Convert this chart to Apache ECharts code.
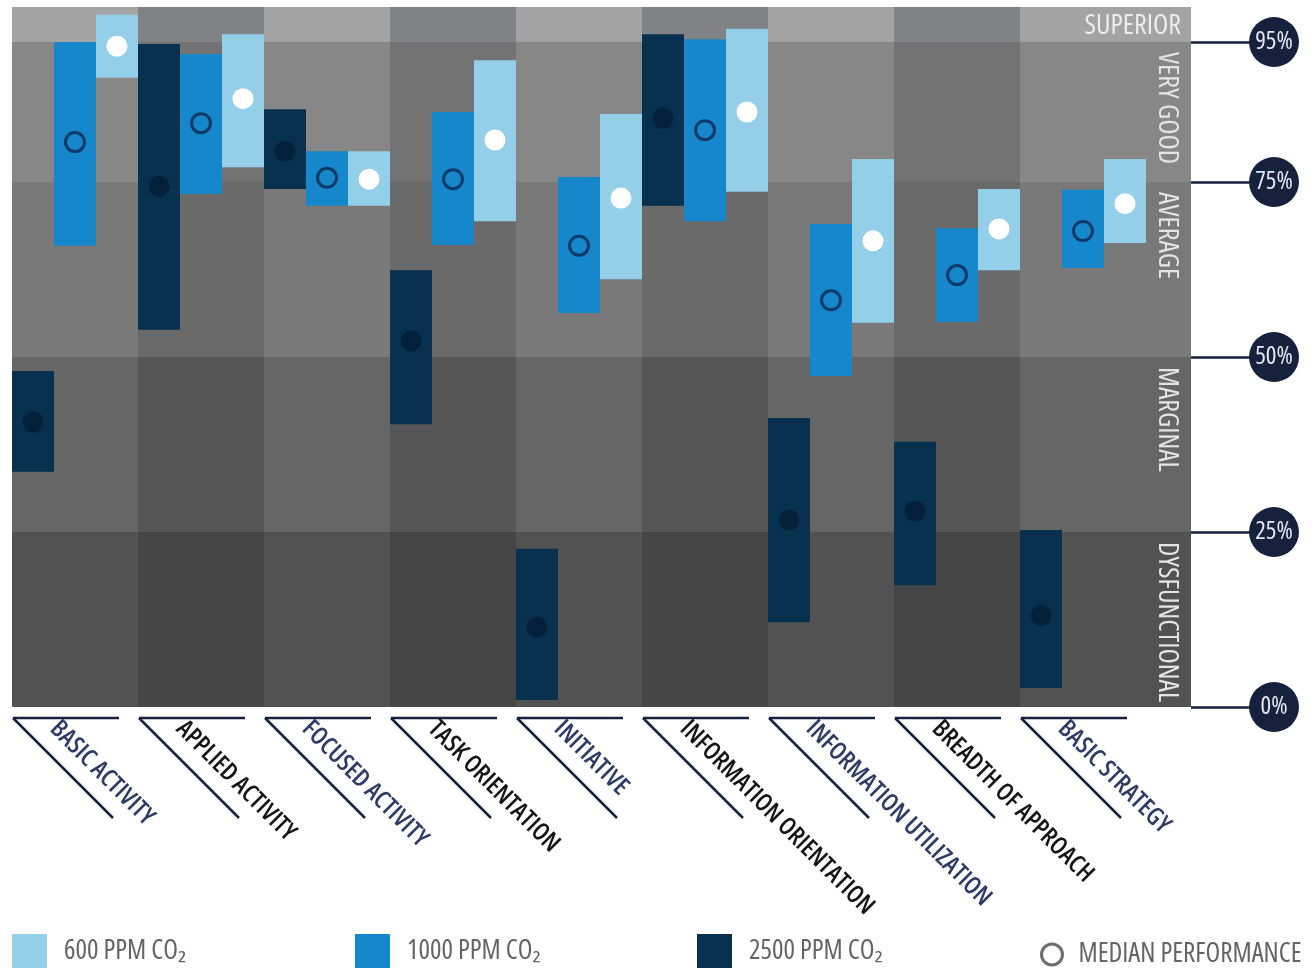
<!DOCTYPE html>
<html><head><meta charset="utf-8">
<script src="https://cdn.jsdelivr.net/npm/echarts@6/dist/echarts.min.js"></script>
<style>html,body{margin:0;padding:0;background:#fff}#c{width:1314px;height:973px}</style>
</head><body><div id="c"></div>
<script>
// Cognitive performance ranges by CO2 level, one column per decision-making domain.
const categories = [
  'BASIC ACTIVITY', 'APPLIED ACTIVITY', 'FOCUSED ACTIVITY', 'TASK ORIENTATION', 'INITIATIVE',
  'INFORMATION ORIENTATION', 'INFORMATION UTILIZATION', 'BREADTH OF APPROACH', 'BASIC STRATEGY'
];

// Percentile ranges (low / high) and medians for each exposure level
const ppm600Low     = [89.9, 77.1, 71.6, 69.4, 61.1, 73.6, 54.9, 62.4, 66.3];
const ppm600High    = [98.9, 96.1, 79.4, 92.4, 84.7, 96.9, 78.3, 74.0, 78.3];
const ppm600Median  = [94.4, 86.9, 75.4, 81.0, 72.7, 85.0, 66.6, 68.3, 71.9];

const ppm1000Low    = [65.9, 73.3, 71.6, 66.0, 56.3, 69.4, 47.3, 55.0, 62.7];
const ppm1000High   = [95.0, 93.3, 79.4, 85.0, 75.7, 95.4, 69.0, 68.4, 73.9];
const ppm1000Median = [80.7, 83.4, 75.6, 75.4, 65.9, 82.4, 58.1, 61.7, 68.0];

const ppm2500Low    = [33.6, 53.9, 74.0, 40.4, 1.0, 71.6, 12.1, 17.4, 2.7];
const ppm2500High   = [48.0, 94.7, 85.4, 62.4, 22.6, 96.1, 41.3, 37.9, 25.3];
const ppm2500Median = [40.7, 74.4, 79.4, 52.3, 11.4, 84.1, 26.7, 28.0, 13.1];

// Performance bands (bottom to top) and the right-hand percentile ticks
const bandEdges = [0, 25, 50, 75, 95, 100];
const bandNames = ['DYSFUNCTIONAL', 'MARGINAL', 'AVERAGE', 'VERY GOOD', 'SUPERIOR'];
const percentTicks = [0, 25, 50, 75, 95];

const seriesNames = ['2500 PPM CO₂', '1000 PPM CO₂', '600 PPM CO₂'];

// ---- styling ----
const FONT_FAMILY = 'Open Sans';
const condensed = (size, weight) => 'condensed ' + (weight || 'normal') + ' ' + size + 'px "' + FONT_FAMILY + '"';
const bandShades = [
  ['#525252', '#464646'],
  ['#666666', '#565656'],
  ['#797979', '#6a6a6a'],
  ['#878787', '#737373'],
  ['#a3a3a3', '#808286']
];
const barColors = ['#07314f', '#1787cb', '#94cfea'];
const medianStyles = [
  { r: 10.5, style: { fill: '#05203a' } },
  { r: 9.5, style: { fill: 'none', stroke: '#0b3a68', lineWidth: 3 } },
  { r: 10.5, style: { fill: '#ffffff' } }
];
const navy = '#16213d';
const labelColors = ['#2e3b66', '#141414'];

const lows = [ppm2500Low, ppm1000Low, ppm600Low];
const highs = [ppm2500High, ppm1000High, ppm600High];
const medians = [ppm2500Median, ppm1000Median, ppm600Median];
const LEVELS = 3;

// background cells: one per category column and band
const cellData = [];
categories.forEach((c, i) => {
  for (let b = 0; b < bandNames.length; b++) cellData.push([i, bandEdges[b], bandEdges[b + 1], b]);
});

function renderCell(params, api) {
  const col = api.value(0), lo = api.value(1), hi = api.value(2), band = api.value(3);
  const cs = params.coordSys;
  const tl = api.coord([col - 0.5, hi]);
  const br = api.coord([col + 0.5, lo]);
  const x0 = Math.round(tl[0]);
  const x1 = col === categories.length - 1 ? cs.x + cs.width : Math.round(br[0]);
  const y0 = Math.round(tl[1]), y1 = Math.round(br[1]);
  return {
    type: 'rect',
    shape: { x: x0, y: y0, width: x1 - x0, height: y1 - y0 },
    style: { fill: bandShades[band][col % 2] }
  };
}

function renderBandLabel(params, api) {
  const lo = api.value(0), hi = api.value(1), b = params.dataIndex;
  const cs = params.coordSys;
  const right = cs.x + cs.width;
  const top = api.coord([0, hi])[1], bottom = api.coord([0, lo])[1];
  if (b === bandNames.length - 1) {
    return {
      type: 'text', x: right - 10, y: (top + bottom) / 2 + 2,
      style: { text: bandNames[b], font: condensed(28), fill: '#ececec', align: 'right', verticalAlign: 'middle' }
    };
  }
  return {
    type: 'text', x: right - 24, y: top + 10, rotation: -Math.PI / 2,
    style: { text: bandNames[b], font: condensed(28), fill: '#e4e4e4', align: 'left', verticalAlign: 'middle' }
  };
}

function makeBarRenderer(level) {
  return function (params, api) {
    const i = api.value(0), lo = api.value(1), hi = api.value(2);
    const top = api.coord([i - 0.5, hi]);
    const bottom = api.coord([i - 0.5, lo]);
    const w = api.size([1, 0])[0] / LEVELS;
    const x = top[0] + level * w;
    return {
      type: 'rect',
      shape: { x: Math.round(x), y: top[1], width: Math.round(x + w) - Math.round(x), height: bottom[1] - top[1] },
      style: { fill: barColors[level] }
    };
  };
}

function renderMedian(params, api) {
  const i = api.value(0), level = api.value(1), m = api.value(2);
  const p = api.coord([i - 0.5, m]);
  const w = api.size([1, 0])[0] / LEVELS;
  const s = medianStyles[level];
  return {
    type: 'circle',
    shape: { cx: p[0] + (level + 0.5) * w, cy: p[1], r: s.r },
    style: s.style
  };
}

function renderCategoryLabel(params, api) {
  const i = api.value(0);
  const base = api.coord([i - 0.5, 0]);
  const x = base[0] + 1, y = base[1] + 11;
  const d = Math.SQRT1_2;
  return {
    type: 'group',
    children: [
      { type: 'line', shape: { x1: x, y1: y, x2: x + 106, y2: y }, style: { stroke: navy, lineWidth: 2.5 } },
      { type: 'line', shape: { x1: x, y1: y, x2: x + 100, y2: y + 100 }, style: { stroke: navy, lineWidth: 2.5 } },
      {
        type: 'text', x: x + 34 * d + 24 * d, y: y + 34 * d - 24 * d, rotation: -Math.PI / 4,
        style: { text: categories[i], font: condensed(25, 600), fill: labelColors[i % 2], align: 'left', verticalAlign: 'middle' }
      }
    ]
  };
}

const barSeries = [0, 1, 2].map(level => ({
  name: seriesNames[level],
  type: 'custom',
  z: 2,
  itemStyle: { color: barColors[level] },
  renderItem: makeBarRenderer(level),
  encode: { x: 0, y: [1, 2] },
  data: categories.map((c, i) => [i, lows[level][i], highs[level][i]])
}));

const medianData = [];
categories.forEach((c, i) => {
  for (let level = 0; level < LEVELS; level++) medianData.push([i, level, medians[level][i]]);
});

const legendText = { color: '#646464', fontSize: 27, fontStyle: 'condensed', fontFamily: FONT_FAMILY, padding: [0, 0, 0, 12] };
const squareLegend = (name, left) => ({
  data: [name], left: left, top: 934, padding: 0, orient: 'horizontal', icon: 'rect',
  itemWidth: 35, itemHeight: 34, selectedMode: false, textStyle: legendText
});

const chart = echarts.init(document.getElementById('c'), null, { renderer: 'canvas' });
chart.setOption({
  animation: false,
  backgroundColor: '#ffffff',
  grid: { left: 12, right: 123, top: 7, bottom: 266 },
  xAxis: { type: 'value', min: -0.5, max: 8.857, show: false },
  yAxis: [
    { type: 'value', min: 0, max: 100, show: false },
    {
      type: 'value', min: 0, max: 100, position: 'right',
      axisLine: { show: false }, splitLine: { show: false },
      axisTick: { show: true, customValues: percentTicks, length: 60, lineStyle: { color: navy, width: 2.5 } },
      axisLabel: {
        customValues: percentTicks, formatter: '{value}%', margin: 83, align: 'center', verticalAlign: 'middle',
        width: 50, height: 50, lineHeight: 50, backgroundColor: navy, borderRadius: 25,
        color: '#e2e6ee', fontSize: 25, fontStyle: 'condensed', fontFamily: FONT_FAMILY
      }
    }
  ],
  legend: [
    squareLegend('600 PPM CO₂', 12),
    squareLegend('1000 PPM CO₂', 355),
    squareLegend('2500 PPM CO₂', 697),
    {
      data: [{ name: 'MEDIAN PERFORMANCE', icon: 'circle', itemStyle: { color: '#ffffff', borderColor: '#6e6e6e', borderWidth: 3 } }],
      left: 1040, top: 941, padding: 0, itemWidth: 21, itemHeight: 21, selectedMode: false,
      textStyle: Object.assign({}, legendText, { padding: [0, 0, 0, 11] })
    }
  ],
  series: [
    {
      name: 'performance bands', type: 'custom', z: 0, silent: true,
      renderItem: renderCell, encode: { x: 0, y: [1, 2] }, data: cellData
    },
    {
      name: 'band labels', type: 'custom', z: 1, silent: true,
      renderItem: renderBandLabel, encode: { y: [0, 1] },
      data: bandNames.map((n, b) => [bandEdges[b], bandEdges[b + 1]])
    },
    ...barSeries,
    {
      name: 'MEDIAN PERFORMANCE', type: 'custom', z: 3,
      itemStyle: { color: '#6e6e6e' },
      renderItem: renderMedian, encode: { x: 0, y: 2 }, data: medianData
    },
    {
      name: 'categories', type: 'custom', z: 4, silent: true,
      renderItem: renderCategoryLabel, encode: { x: 0, y: 1 },
      data: categories.map((c, i) => [i, 0])
    }
  ]
});
</script></body></html>
